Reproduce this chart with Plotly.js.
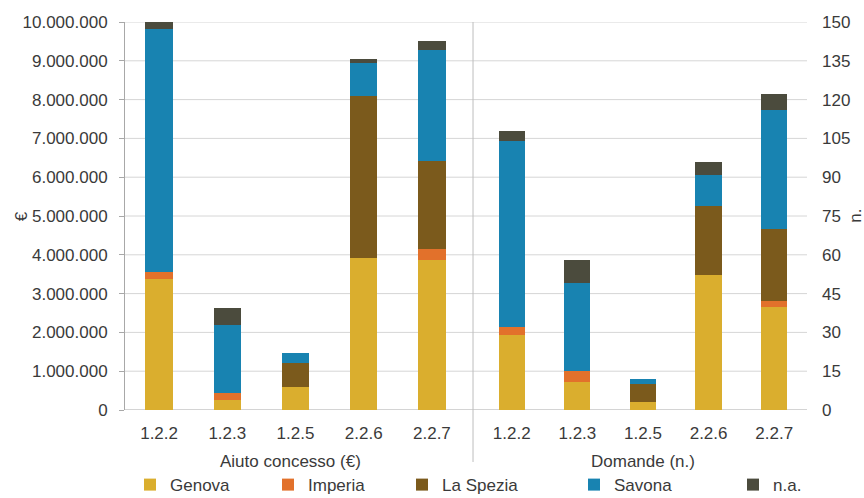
<!DOCTYPE html>
<html>
<head>
<meta charset="utf-8">
<script src="https://cdn.plot.ly/plotly-3.0.1.min.js"></script>
<style>html,body{margin:0;padding:0;background:#fff;}#chart{width:864px;height:498px;}</style>
</head>
<body>
<div id="chart"></div>
<script>
// Categories (measures)
const categories = ["1.2.2", "1.2.3", "1.2.5", "2.2.6", "2.2.7"];
const seriesNames = ["Genova", "Imperia", "La Spezia", "Savona", "n.a."];
const seriesColors = ["#DAAE2E", "#E2712B", "#7B5A1C", "#1883B1", "#4B4B3D"];

// Aiuto concesso (€)
const aiutoGenova   = [3370000, 260000, 600000, 3930000, 3870000];
const aiutoImperia  = [190000, 170000, 0, 0, 280000];
const aiutoLaSpezia = [0, 0, 620000, 4160000, 2270000];
const aiutoSavona   = [6250000, 1760000, 260000, 850000, 2860000];
const aiutoNA       = [190000, 450000, 0, 110000, 230000];

// Domande (n.)
const domGenova   = [29, 11, 3, 52, 40];
const domImperia  = [3, 4, 0, 0, 2];
const domLaSpezia = [0, 0, 7, 27, 28];
const domSavona   = [72, 34, 2, 12, 46];
const domNA       = [4, 9, 0, 5, 6];

// Axis ticks and titles
const leftTicks = [0,1000000,2000000,3000000,4000000,5000000,6000000,7000000,8000000,9000000,10000000];
const rightTicks = [0,15,30,45,60,75,90,105,120,135,150];
const groupTitles = ["Aiuto concesso (€)", "Domande (n.)"];
const yTitles = ["€", "n."];

const aiuto = [aiutoGenova, aiutoImperia, aiutoLaSpezia, aiutoSavona, aiutoNA];
const dom = [domGenova, domImperia, domLaSpezia, domSavona, domNA];
const legendIds = ['legend', 'legend2', 'legend3', 'legend4', 'legend5'];

const traces = [];
seriesNames.forEach((name, i) => {
  traces.push({type:'bar', name:name, x:categories, y:aiuto[i], xaxis:'x', yaxis:'y',
    marker:{color:seriesColors[i]}, legendgroup:name, showlegend:true, legend:legendIds[i], hoverinfo:'skip'});
});
seriesNames.forEach((name, i) => {
  traces.push({type:'bar', name:name, x:categories, y:dom[i], xaxis:'x2', yaxis:'y2',
    marker:{color:seriesColors[i]}, legendgroup:name, showlegend:false, hoverinfo:'skip'});
});

const textColor = '#3a3a3a';
const gridColor = '#d6d6d6';
const axisColor = '#a8a8a8';
const fontFam = 'Liberation Sans, Arial, sans-serif';
const fs = 17;

const shapes = leftTicks.map(v => ({type:'line', xref:'paper', yref:'y', x0:0, x1:1, y0:v, y1:v,
  line:{color: v === 0 ? axisColor : gridColor, width:1}, layer:'below'}));
shapes.push({type:'line', xref:'paper', yref:'paper', x0:0.5103, x1:0.5103, y0:1, y1:-0.134,
  line:{color:'#bdbdbd', width:1}});

const layout = {
  width:864, height:498,
  margin:{l:125, r:57, t:22, b:88, pad:0},
  paper_bgcolor:'#fff', plot_bgcolor:'rgba(0,0,0,0)',
  font:{family:fontFam, size:fs, color:textColor},
  separators:',.',
  barmode:'stack', bargap:0.6,
  showlegend:true,
  xaxis:{domain:[0,0.5], anchor:'y', type:'category', showgrid:false, showline:false, zeroline:false,
    ticks:'', tickfont:{size:fs, color:textColor}, ticklabelstandoff:11},
  xaxis2:{domain:[0.519,1], anchor:'y2', type:'category', showgrid:false, showline:false, zeroline:false,
    ticks:'', tickfont:{size:fs, color:textColor}, ticklabelstandoff:11},
  yaxis:{domain:[0,1], anchor:'x', range:[0,10000000], tickvals:leftTicks, tickformat:',d',
    showgrid:false, zeroline:false, showline:true, linecolor:axisColor, linewidth:1,
    ticks:'outside', ticklen:5, tickcolor:axisColor, ticklabelstandoff:8,
    tickfont:{size:fs, color:textColor}, fixedrange:true},
  yaxis2:{domain:[0,1], anchor:'x2', side:'right', range:[0,150], tickvals:rightTicks,
    showgrid:false, zeroline:false, showline:false, ticks:'', ticklabelstandoff:14,
    tickfont:{size:fs, color:textColor}, fixedrange:true},
  shapes:shapes,
  annotations:[
    {text:yTitles[0], xref:'paper', yref:'paper', x:-0.152, y:0.5, xanchor:'center', yanchor:'middle', showarrow:false,
     textangle:-90, font:{size:fs, color:textColor}},
    {text:yTitles[1], xref:'paper', yref:'paper', x:1.07, y:0.5, xanchor:'center', yanchor:'middle', showarrow:false,
     textangle:-90, font:{size:fs, color:textColor}},
    {text:groupTitles[0], xref:'x domain', yref:'paper', x:0.485, y:-0.134, xanchor:'center', yanchor:'middle', showarrow:false,
     font:{size:fs, color:textColor}},
    {text:groupTitles[1], xref:'x2 domain', yref:'paper', x:0.5, y:-0.134, xanchor:'center', yanchor:'middle', showarrow:false,
     font:{size:fs, color:textColor}}
  ]
};

// One legend per series, each placed where the reference puts it
const legendTextX = [171, 309, 443, 615, 774];
legendIds.forEach((id, i) => {
  layout[id] = {orientation:'h', xref:'container', yref:'container', x:(legendTextX[i]-41)/864, y:0.026,
    xanchor:'left', yanchor:'middle', font:{size:17, color:textColor}, bgcolor:'rgba(0,0,0,0)', itemwidth:30};
});

Plotly.newPlot('chart', traces, layout, {displayModeBar:false, staticPlot:true});
</script>
</body>
</html>
